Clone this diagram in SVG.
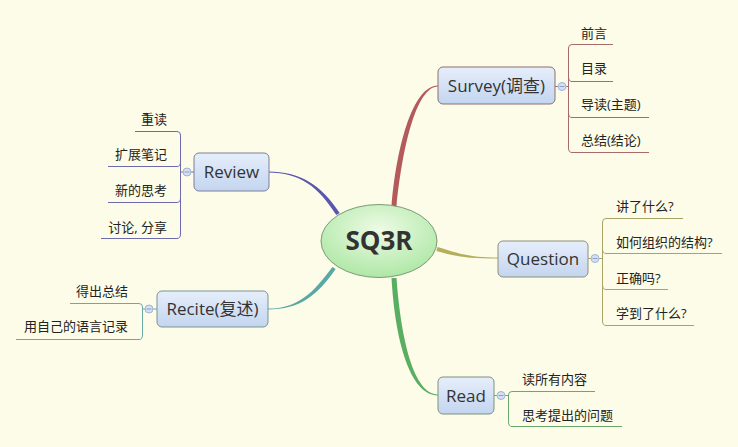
<svg xmlns="http://www.w3.org/2000/svg" width="738" height="447" viewBox="0 0 738 447">
<defs>
<linearGradient id="gNode" x1="0" y1="0" x2="0" y2="1">
<stop offset="0" stop-color="#e6eefb"/>
<stop offset="1" stop-color="#c3d5ef"/>
</linearGradient>
<radialGradient id="gCenter" cx="0.5" cy="0.35" r="0.7">
<stop offset="0" stop-color="#eefbe6"/>
<stop offset="1" stop-color="#a9e6a0"/>
</radialGradient>
<style>
.bg{fill:#fcfce8}
.node{fill:url(#gNode);stroke-width:1}
.nt{font-family:"Open Sans","Noto Sans CJK SC",sans-serif;font-size:17px;fill:#333;text-anchor:middle}
.st{font-family:"Open Sans","Noto Sans CJK SC",sans-serif;font-size:13px;fill:#222}
.end{text-anchor:end}
.br{fill:none;stroke-width:1}
.col{fill:#d4e0f2;stroke:#9fb4d6;stroke-width:1}
.mn{stroke:#8aa0c4;stroke-width:1}
</style>
</defs>
<rect class="bg" x="0" y="0" width="738" height="447"/>
<g id="connectors">
<path d="M391.5,207 C396,150 412,85.5 438,85.5 L438,86.5 C416,86.5 402,150 396.5,207 Z" fill="#b35a5a"/>
<path d="M339.7,213 C321.5,185 300,171.5 268,171.5 L268,172.5 C300,172.5 318.5,187 336.3,215 Z" fill="#5a55b0"/>
<path d="M437.6,247 C461,254.5 472,257.5 498,257.5 L498,258.5 C470,258.5 459,257.5 436.4,251 Z" fill="#b5ae5c"/>
<path d="M332.4,266.9 C313,293 298,308.5 268,308.5 L268,309.5 C300,309.5 317,296 335.6,269.1 Z" fill="#5aa8a4"/>
<path d="M391.5,278 C395,340 410,395.5 438,395.5 L438,394.5 C414,394.5 401,340 396.5,278 Z" fill="#5aae62"/>
</g>
<g id="center">
<ellipse cx="379" cy="241" rx="58" ry="36.5" fill="url(#gCenter)" stroke="#7c9a78" stroke-width="1"/>
<text x="379" y="250" font-family="'Open Sans','Noto Sans CJK SC',sans-serif" font-size="26" font-weight="bold" fill="#333" text-anchor="middle">SQ3R</text>
</g>
<g id="survey">
<rect class="node" x="438" y="67" width="117" height="37" rx="5" stroke="#8f6e6e"/>
<text class="nt" x="496.5" y="92">Survey(调查)</text>
<path class="br" stroke="#a86a6a" d="M555,86.5 H568 M613,44.5 H572 Q568.5,44.5 568.5,48 V148 Q568.5,152.5 572,152.5 H649 M568.5,77 Q568.5,81.5 572,81.5 H613 M568.5,113 Q568.5,117.5 572,117.5 H649"/>
<circle class="col" cx="562" cy="86.5" r="4"/>
<line class="mn" x1="559.5" y1="86.5" x2="564.5" y2="86.5"/>
<text class="st" x="581" y="38">前言</text>
<text class="st" x="581" y="73">目录</text>
<text class="st" x="581" y="109">导读(主题)</text>
<text class="st" x="581" y="145">总结(结论)</text>
</g>
<g id="question">
<rect class="node" x="498" y="241" width="90" height="36" rx="5" stroke="#8e8e7a"/>
<text class="nt" x="543" y="265">Question</text>
<path class="br" stroke="#a8a468" d="M588,258.5 H602 M683,218.5 H606 Q602.5,218.5 602.5,222 V321 Q602.5,325.5 606,325.5 H694 M602.5,249 Q602.5,253.5 606,253.5 H722 M602.5,285 Q602.5,289.5 606,289.5 H668"/>
<circle class="col" cx="595" cy="258.5" r="4"/>
<line class="mn" x1="592.5" y1="258.5" x2="597.5" y2="258.5"/>
<text class="st" x="616" y="211">讲了什么?</text>
<text class="st" x="616" y="247">如何组织的结构?</text>
<text class="st" x="616" y="283">正确吗?</text>
<text class="st" x="616" y="318">学到了什么?</text>
</g>
<g id="read">
<rect class="node" x="438" y="377" width="56" height="37" rx="5" stroke="#7e907e"/>
<text class="nt" x="466" y="402">Read</text>
<path class="br" stroke="#6aa86e" d="M494,395.5 H508 M595,391.5 H512 Q508.5,391.5 508.5,395 V422 Q508.5,426.5 512,426.5 H622"/>
<circle class="col" cx="501" cy="395.5" r="4"/>
<line class="mn" x1="498.5" y1="395.5" x2="503.5" y2="395.5"/>
<text class="st" x="522" y="384">读所有内容</text>
<text class="st" x="522" y="420">思考提出的问题</text>
</g>
<g id="review">
<rect class="node" x="194" y="153" width="75" height="38" rx="5" stroke="#7e7e98"/>
<text class="nt" x="231.5" y="178">Review</text>
<path class="br" stroke="#6e6aae" d="M194,172 H181 M135,131.5 H177 Q180.5,131.5 180.5,135 V234 Q180.5,238.5 177,238.5 H101 M180.5,162 Q180.5,166.5 177,166.5 H108 M180.5,198 Q180.5,202.5 177,202.5 H108"/>
<circle class="col" cx="187" cy="172" r="4"/>
<line class="mn" x1="184.5" y1="172" x2="189.5" y2="172"/>
<text class="st end" x="167" y="124">重读</text>
<text class="st end" x="167" y="159">扩展笔记</text>
<text class="st end" x="167" y="195">新的思考</text>
<text class="st end" x="167" y="232">讨论, 分享</text>
</g>
<g id="recite">
<rect class="node" x="157" y="291" width="111" height="36" rx="5" stroke="#7a9494"/>
<text class="nt" x="212.5" y="315">Recite(复述)</text>
<path class="br" stroke="#6aaaa6" d="M157,309 H143 M70,303.5 H139 Q142.5,303.5 142.5,307 V335 Q142.5,339.5 139,339.5 H16"/>
<circle class="col" cx="149" cy="309" r="4"/>
<line class="mn" x1="146.5" y1="309" x2="151.5" y2="309"/>
<text class="st end" x="128" y="296">得出总结</text>
<text class="st end" x="128" y="331">用自己的语言记录</text>
</g>
</svg>
